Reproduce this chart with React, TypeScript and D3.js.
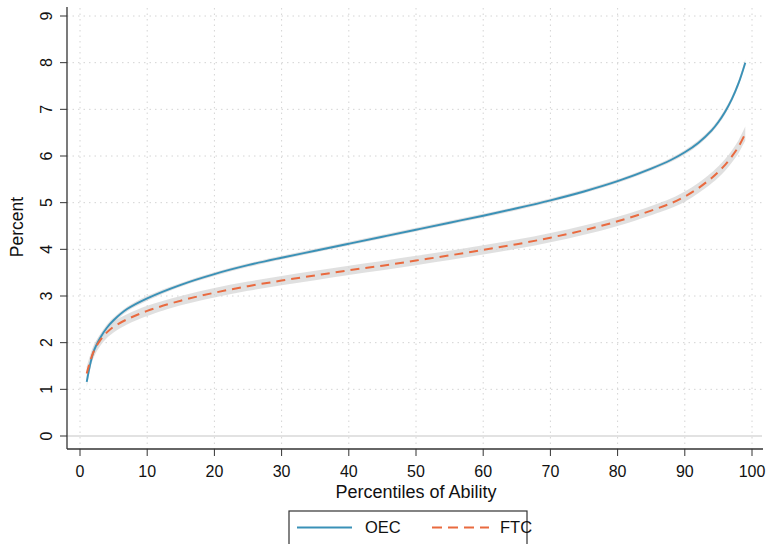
import React from "react";
import * as d3 from "d3";

// percentiles of ability and fitted shares
const pct = [1, 2, 3, 4, 5, 7, 10, 15, 20, 25, 30, 35, 40, 45, 50, 55, 60, 65, 70, 75, 80, 85, 88, 90, 92, 94, 95, 96, 97, 98, 99];
const oec = [1.16, 1.8, 2.1, 2.32, 2.48, 2.72, 2.95, 3.24, 3.47, 3.66, 3.82, 3.97, 4.12, 4.27, 4.42, 4.57, 4.72, 4.88, 5.05, 5.24, 5.46, 5.73, 5.92, 6.08, 6.28, 6.55, 6.73, 6.95, 7.22, 7.56, 8.0];
const ftc = [1.34, 1.8, 2.05, 2.22, 2.34, 2.5, 2.68, 2.9, 3.07, 3.21, 3.33, 3.44, 3.55, 3.65, 3.76, 3.87, 3.99, 4.11, 4.25, 4.41, 4.6, 4.83, 4.99, 5.13, 5.31, 5.53, 5.66, 5.81, 5.99, 6.2, 6.48];
const oecSe = [0.12, 0.1, 0.08, 0.07, 0.06, 0.05, 0.05, 0.04, 0.04, 0.04, 0.04, 0.04, 0.04, 0.04, 0.04, 0.04, 0.04, 0.04, 0.04, 0.04, 0.04, 0.04, 0.045, 0.05, 0.05, 0.05, 0.055, 0.06, 0.06, 0.065, 0.07];
const ftcSe = [0.14, 0.13, 0.12, 0.12, 0.12, 0.11, 0.11, 0.1, 0.1, 0.1, 0.1, 0.1, 0.1, 0.1, 0.1, 0.1, 0.1, 0.1, 0.1, 0.1, 0.1, 0.1, 0.105, 0.11, 0.11, 0.115, 0.12, 0.125, 0.13, 0.14, 0.15];
const xTicks = [0, 10, 20, 30, 40, 50, 60, 70, 80, 90, 100];
const yTicks = [0, 1, 2, 3, 4, 5, 6, 7, 8, 9];

const W = 769;
const H = 544;
const font = "'Liberation Sans', Arial, sans-serif";
const blue = "#3a91b7";
const orange = "#e96a3f";

export default function App() {
  const x = d3.scaleLinear().domain([0, 100]).range([80, 752]);
  const y = d3.scaleLinear().domain([0, 9]).range([436, 16]);
  const axisLeft = 67;
  const axisBottom = 449;
  const curve = d3.curveCatmullRom.alpha(0.5);

  const pts = (vals: number[]) => pct.map((p, i) => [p, vals[i], i] as [number, number, number]);
  const line = d3.line<[number, number, number]>()
    .x(d => x(d[0]))
    .y(d => y(d[1]))
    .curve(curve);
  const band = (se: number[]) => d3.area<[number, number, number]>()
    .x(d => x(d[0]))
    .y0(d => y(d[1] - se[d[2]]))
    .y1(d => y(d[1] + se[d[2]]))
    .curve(curve);

  return (
    <svg width={W} height={H} style={{ position: "absolute", left: 0, top: 0, background: "#fff" }} fontFamily={font}>
      {/* grid */}
      {yTicks.filter(t => t > 0).map(t => (
        <line key={"gy" + t} x1={axisLeft} x2={762} y1={y(t)} y2={y(t)} stroke="#d4d4d4" strokeWidth={1} strokeDasharray="1.5,4" />
      ))}
      {xTicks.map(t => (
        <line key={"gx" + t} x1={x(t)} x2={x(t)} y1={8} y2={axisBottom} stroke="#d4d4d4" strokeWidth={1} strokeDasharray="1.5,4" />
      ))}
      <line x1={axisLeft} x2={762} y1={y(0)} y2={y(0)} stroke="#d8d8d8" strokeWidth={1.5} />

      {/* confidence bands */}
      <path d={band(ftcSe)(pts(ftc)) || ""} fill="#d6d6d6" opacity={0.75} />
      <path d={band(oecSe)(pts(oec)) || ""} fill="#d6d6d6" opacity={0.75} />

      {/* lines */}
      <path d={line(pts(oec)) || ""} fill="none" stroke={blue} strokeWidth={1.9} />
      <path d={line(pts(ftc)) || ""} fill="none" stroke={orange} strokeWidth={2} strokeDasharray="9,6" />

      {/* axes */}
      <line x1={axisLeft} x2={axisLeft} y1={7} y2={axisBottom} stroke="#333" strokeWidth={1.3} />
      <line x1={axisLeft} x2={763} y1={axisBottom} y2={axisBottom} stroke="#333" strokeWidth={1.3} />
      {yTicks.map(t => (
        <g key={"ty" + t}>
          <line x1={axisLeft - 7} x2={axisLeft} y1={y(t)} y2={y(t)} stroke="#333" strokeWidth={1} />
          <text transform={`translate(52,${y(t)}) rotate(-90)`} textAnchor="middle" fontSize={16} fill="#111">{t}</text>
        </g>
      ))}
      {xTicks.map(t => (
        <g key={"tx" + t}>
          <line x1={x(t)} x2={x(t)} y1={axisBottom} y2={axisBottom + 7} stroke="#333" strokeWidth={1} />
          <text x={x(t)} y={477} textAnchor="middle" fontSize={16} fill="#111">{t}</text>
        </g>
      ))}
      <text transform={`translate(23,227) rotate(-90)`} textAnchor="middle" fontSize={17.5} fill="#111">Percent</text>
      <text x={416} y={497.5} textAnchor="middle" fontSize={18} fill="#111">Percentiles of Ability</text>

      {/* legend */}
      <rect x={289} y={511} width={238} height={50} fill="#fff" stroke="#333" strokeWidth={1.2} />
      <line x1={297} x2={352} y1={527.5} y2={527.5} stroke={blue} strokeWidth={2} />
      <text x={365} y={533} fontSize={16.5} fill="#111">OEC</text>
      <line x1={432} x2={489} y1={527.5} y2={527.5} stroke={orange} strokeWidth={2} strokeDasharray="10,6" />
      <text x={500} y={533} fontSize={16.5} fill="#111">FTC</text>
    </svg>
  );
}
